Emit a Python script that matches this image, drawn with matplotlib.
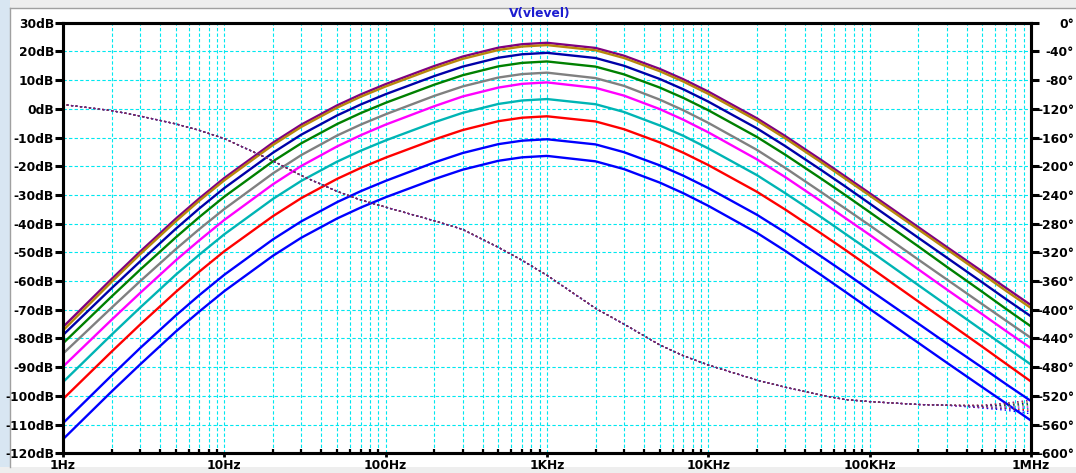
import matplotlib
matplotlib.use("Agg")
import matplotlib.pyplot as plt
from matplotlib.patches import Rectangle
from matplotlib.ticker import FixedLocator, NullFormatter

# ---------------- data ----------------
freqs = [1, 2, 3, 5, 7, 10, 20, 30, 50, 70, 100, 200, 300, 500, 700,
         1e3, 2e3, 3e3, 5e3, 7e3, 1e4, 2e4, 3e4, 5e4, 7e4, 1e5, 2e5, 3e5, 5e5, 7e5, 1e6]

mag_purple  = [-76.0, -59.3, -49.8, -38.3, -31.2, -24.1, -11.8, -5.5, 1.2, 5.0, 8.6, 14.9, 18.2, 21.3, 22.5,
               23.0, 21.2, 18.5, 13.9, 10.3, 6.0, -3.3, -9.5, -17.8, -23.4, -29.4, -41.2, -48.1, -56.7, -62.4, -68.4]
mag_gold    = [-77.2, -60.3, -50.7, -39.2, -32.0, -24.9, -12.6, -6.3, 0.4, 4.2, 7.8, 14.1, 17.4, 20.5, 21.7,
               22.2, 20.4, 17.7, 13.1, 9.5, 5.2, -4.1, -10.3, -18.6, -24.2, -30.2, -42.0, -48.9, -57.6, -63.4, -69.4]
mag_navy    = [-78.8, -62.5, -53.2, -41.8, -34.7, -27.6, -15.3, -9.0, -2.3, 1.5, 5.1, 11.4, 14.7, 17.8, 19.0,
               19.5, 17.7, 15.0, 10.4, 6.8, 2.5, -6.8, -13.0, -21.3, -26.9, -33.0, -44.9, -51.8, -60.5, -66.3, -72.3]
mag_green   = [-81.7, -65.4, -56.1, -44.8, -37.7, -30.6, -18.3, -12.0, -5.3, -1.5, 2.1, 8.4, 11.7, 14.8, 16.0,
               16.5, 14.7, 12.0, 7.4, 3.8, -0.5, -9.8, -16.0, -24.3, -29.9, -36.0, -47.9, -55.0, -63.8, -69.7, -75.8]
mag_gray    = [-85.3, -69.3, -60.1, -48.9, -41.9, -34.9, -22.5, -16.1, -9.3, -5.5, -1.9, 4.5, 7.8, 10.9, 12.1,
               12.6, 10.7, 8.0, 3.2, -0.5, -4.9, -14.3, -20.6, -29.0, -34.6, -40.6, -52.5, -59.4, -68.1, -73.8, -79.8]
mag_magenta = [-89.8, -73.5, -64.2, -52.8, -45.8, -38.7, -26.3, -19.9, -13.1, -9.2, -5.5, 0.9, 4.3, 7.4, 8.7,
               9.2, 7.3, 4.6, -0.1, -3.8, -8.2, -17.6, -23.8, -32.2, -37.9, -43.9, -55.9, -62.9, -71.6, -77.4, -83.4]
mag_cyan    = [-95.2, -78.7, -69.3, -57.8, -50.8, -43.7, -31.4, -25.1, -18.4, -14.6, -11.0, -4.7, -1.4, 1.7, 2.9,
               3.4, 1.6, -1.1, -5.8, -9.4, -13.8, -23.1, -29.4, -37.7, -43.4, -49.4, -61.4, -68.4, -77.2, -83.0, -89.1]
mag_red     = [-101.1, -84.6, -75.2, -63.8, -56.7, -49.6, -37.4, -31.1, -24.4, -20.6, -17.0, -10.7, -7.4, -4.3, -3.1,
               -2.6, -4.4, -7.1, -11.7, -15.3, -19.6, -28.9, -35.1, -43.4, -49.0, -55.1, -67.1, -74.1, -82.9, -88.8, -95.0]
mag_blue    = [-109.5, -92.9, -83.4, -72.0, -64.9, -57.8, -45.5, -39.2, -32.5, -28.7, -25.1, -18.7, -15.4, -12.3, -11.1,
               -10.6, -12.4, -15.1, -19.7, -23.3, -27.6, -36.9, -43.1, -51.4, -57.0, -63.1, -74.8, -81.7, -90.2, -95.9, -101.8]
mag_blue2   = [-115.1, -98.5, -89.1, -77.6, -70.6, -63.5, -51.2, -44.9, -38.2, -34.4, -30.8, -24.5, -21.2, -18.1, -16.9,
               -16.4, -18.3, -21.0, -25.7, -29.4, -33.8, -43.2, -49.5, -57.9, -63.6, -69.7, -81.5, -88.4, -97.0, -102.6, -108.6]

# phase (degrees): shared part up to 300 kHz, then per-trace values at 500 kHz, 700 kHz and 1 MHz
phase_common = [-114, -122.5, -130, -141, -150, -161.5, -192.5, -213, -235, -247, -257, -276, -288, -313, -331,
                -352, -398, -420, -449, -464, -477, -498, -508, -519, -525, -528, -532, -533]
phase_tail = {
    "purple":  [-533, -530, -526],
    "gold":    [-533, -531, -528],
    "navy":    [-534, -532, -530],
    "green":   [-534, -533, -532],
    "gray":    [-534, -534, -534],
    "magenta": [-535, -535, -536],
    "cyan":    [-535, -536, -538],
    "red":     [-536, -537, -540],
    "blue":    [-536, -538, -542],
    "blue2":   [-537, -540, -545],
}

series_names  = ["purple", "gold", "navy", "green", "gray", "magenta", "cyan", "red", "blue", "blue2"]
series_mags   = [mag_purple, mag_gold, mag_navy, mag_green, mag_gray, mag_magenta, mag_cyan, mag_red, mag_blue, mag_blue2]
series_colors = ["#800080", "#b8860b", "#0000a8", "#008000", "#808080", "#ff00ff", "#00b4b4", "#ff0000", "#0000ff", "#0000ff"]

mag_ticks = list(range(-120, 31, 10))
phase_ticks = list(range(-600, 1, 40))
freq_major = [1, 10, 100, 1e3, 1e4, 1e5, 1e6]
freq_labels = ["1Hz", "10Hz", "100Hz", "1KHz", "10KHz", "100KHz", "1MHz"]

# ---------------- figure ----------------
W, H = 1076, 473
fig = plt.figure(figsize=(W / 100, H / 100), dpi=100, facecolor="white")

fig.patches.append(Rectangle((0, 1 - 8 / H), 1, 8 / H, transform=fig.transFigure, facecolor="#eeeeee", edgecolor="none", zorder=-9))
fig.patches.append(Rectangle((0, 0), 10 / W, 1, transform=fig.transFigure, facecolor="#d8e6f2", edgecolor="none", zorder=-9))
fig.patches.append(Rectangle((0, 0), 1, 6 / H, transform=fig.transFigure, facecolor="#eeeeee", edgecolor="none", zorder=-9))
fig.lines.append(plt.Line2D([10 / W, 10 / W], [6 / H, 1 - 8 / H], transform=fig.transFigure, color="#a0a0a0", lw=1))
fig.lines.append(plt.Line2D([10 / W, 1], [1 - 8 / H, 1 - 8 / H], transform=fig.transFigure, color="#a0a0a0", lw=1))

left, right = 63, 1031
top, bottom = 22.7, 453.3
ax = fig.add_axes([left / W, (H - bottom) / H, (right - left) / W, (bottom - top) / H])
ax.set_facecolor("none")
ax.set_xscale("log")
ax.set_xlim(1, 1e6)
ax.set_ylim(-120, 30)

grid_kw = dict(color="#00e8f0", lw=0.8, ls=(0, (3, 2)), zorder=0)
minor_pos = [m * 10 ** d for d in range(0, 6) for m in range(2, 10)]
for f in freq_major[1:-1] + minor_pos:
    ax.axvline(f, **grid_kw)
for v in mag_ticks[1:-1]:
    ax.axhline(v, **grid_kw)

for name, mag, col in zip(series_names, series_mags, series_colors):
    ax.plot(freqs, mag, color=col, lw=1.7, zorder=3, solid_joinstyle="round")

ax2 = ax.twinx()
ax2.set_ylim(-600, 0)
ax2.set_xscale("log")
ax2.set_xlim(1, 1e6)
order = list(range(len(series_names)))[::-1]
for k, i in enumerate(order):
    name, col = series_names[i], series_colors[i]
    ph = phase_common + phase_tail[name]
    ax2.plot(freqs, ph, color=col, lw=0.9, ls=(k * 0.1, (1.2, 2.4)), zorder=2)

for a in (ax, ax2):
    for s in a.spines.values():
        s.set_linewidth(2.2)
        s.set_color("black")

tick_font = dict(fontsize=8.8, fontweight="bold", family="DejaVu Sans")

ax.xaxis.set_major_locator(FixedLocator(freq_major))
ax.set_xticklabels(freq_labels, **tick_font)
ax.xaxis.set_minor_locator(FixedLocator(minor_pos))
ax.xaxis.set_minor_formatter(NullFormatter())
ax.tick_params(axis="x", which="major", direction="out", length=3, width=2, pad=1, colors="black")
ax.tick_params(axis="x", which="minor", direction="in", length=3, width=1.6)

ax.yaxis.set_major_locator(FixedLocator(mag_ticks))
ax.set_yticklabels([f"{v}dB" for v in mag_ticks], **tick_font)
ax.tick_params(axis="y", which="major", direction="out", length=6, width=2.2, pad=0.5)

ax2.yaxis.set_major_locator(FixedLocator(phase_ticks))
ax2.set_yticklabels([f"{v}\u00b0" for v in phase_ticks], **tick_font)
ax2.tick_params(axis="y", which="major", direction="out", length=6, width=2.2, pad=25)
for lab in ax2.get_yticklabels():
    lab.set_horizontalalignment("right")
ax2.xaxis.set_visible(False)

fig.text(540 / W, 1 - 14 / H, "V(vlevel)", color="#1c1cd0", fontsize=8.8, fontweight="bold",
         ha="center", va="center", family="DejaVu Sans")

fig.savefig("out.png", dpi=100, facecolor="white")
